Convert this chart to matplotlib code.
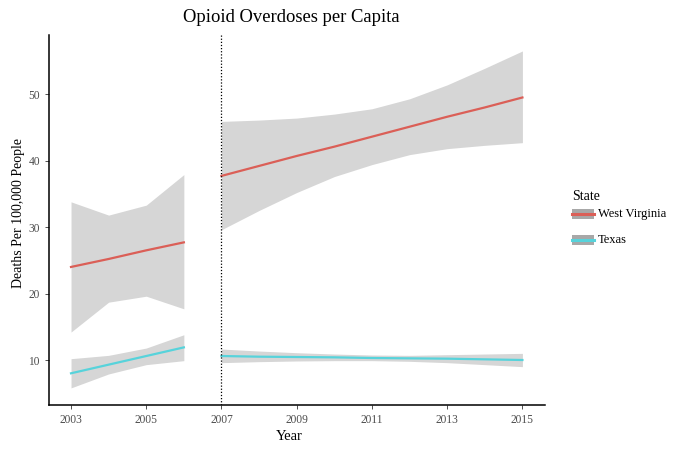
import matplotlib.pyplot as plt
import numpy as np

plt.rcParams['font.family'] = ['Liberation Serif', 'DejaVu Serif']

# data (fitted lines and confidence bands)
years_pre = np.array([2003, 2004, 2005, 2006])
years_post = np.array([2007, 2008, 2009, 2010, 2011, 2012, 2013, 2014, 2015])

wv_pre_fit = np.array([24.0, 25.2, 26.5, 27.7])
wv_pre_lo = np.array([14.2, 18.7, 19.6, 17.7])
wv_pre_hi = np.array([33.8, 31.8, 33.3, 37.9])

tx_pre_fit = np.array([8.0, 9.3, 10.6, 11.9])
tx_pre_lo = np.array([5.8, 7.9, 9.3, 9.9])
tx_pre_hi = np.array([10.2, 10.7, 11.8, 13.8])

wv_post_fit = np.array([37.7, 39.2, 40.7, 42.1, 43.6, 45.1, 46.6, 48.0, 49.5])
wv_post_lo = np.array([29.6, 32.5, 35.2, 37.6, 39.4, 40.9, 41.8, 42.3, 42.7])
wv_post_hi = np.array([45.9, 46.1, 46.4, 47.0, 47.8, 49.3, 51.4, 53.9, 56.5])

tx_post_fit = np.array([10.6, 10.5, 10.45, 10.4, 10.3, 10.25, 10.2, 10.1, 10.0])
tx_post_lo = np.array([9.6, 9.75, 9.85, 9.9, 9.9, 9.8, 9.6, 9.3, 9.0])
tx_post_hi = np.array([11.65, 11.35, 11.1, 10.9, 10.75, 10.7, 10.8, 10.9, 11.0])

red = '#db5f57'
cyan = '#57d3db'
band = '#999999'

fig = plt.figure(figsize=(6.93, 4.53), dpi=100)
ax = fig.add_axes([49/693, 48/453, 496/693, 370/453])

for x, lo, hi in [(years_pre, wv_pre_lo, wv_pre_hi), (years_pre, tx_pre_lo, tx_pre_hi),
                  (years_post, wv_post_lo, wv_post_hi), (years_post, tx_post_lo, tx_post_hi)]:
    ax.fill_between(x, lo, hi, color=band, alpha=0.4, linewidth=0)

ax.plot(years_pre, wv_pre_fit, color=red, lw=1.6)
ax.plot(years_post, wv_post_fit, color=red, lw=1.6)
ax.plot(years_pre, tx_pre_fit, color=cyan, lw=1.6)
ax.plot(years_post, tx_post_fit, color=cyan, lw=1.6)

ax.axvline(2007, color='black', lw=0.9, ls=(0, (1, 1.5)))

ax.set_xlim(2002.415, 2015.6)
ax.set_ylim(3.23, 58.9)
ax.set_xticks([2003, 2005, 2007, 2009, 2011, 2013, 2015])
ax.set_yticks([10, 20, 30, 40, 50])
ax.tick_params(labelsize=8.3, labelcolor='#4d4d4d', color='#333333', length=3, width=0.6)
for s in ['top', 'right']:
    ax.spines[s].set_visible(False)
for s in ['left', 'bottom']:
    ax.spines[s].set_linewidth(1.1)

fig.text(289/693, 1 - 437/453, 'Year', fontsize=10.5, ha='center', va='center')
fig.text(19/693, 1 - 213/453, 'Deaths Per 100,000 People', fontsize=10, ha='center', va='center',
         rotation=90)
fig.text(291/693, 1 - 17/453, 'Opioid Overdoses per Capita', fontsize=13.4, ha='center', va='center')

# legend drawn as key boxes like ggplot
from matplotlib.patches import Rectangle
from matplotlib.lines import Line2D
fig.text(572/693, 1 - 196/453, 'State', fontsize=10, va='center', ha='left')
for i, (lab, col) in enumerate([('West Virginia', red), ('Texas', cyan)]):
    yc = 1 - (214 + i * 26) / 453
    fig.patches.append(Rectangle((572/693, yc - 5/453), 22/693, 10/453, transform=fig.transFigure,
                                 facecolor=band, alpha=0.85, edgecolor='none'))
    fig.lines.append(Line2D([572/693, 594/693], [yc, yc], transform=fig.transFigure, color=col, lw=2.2))
    fig.text(598/693, yc, lab, fontsize=9, va='center', ha='left')

fig.savefig('out.png', dpi=100)
